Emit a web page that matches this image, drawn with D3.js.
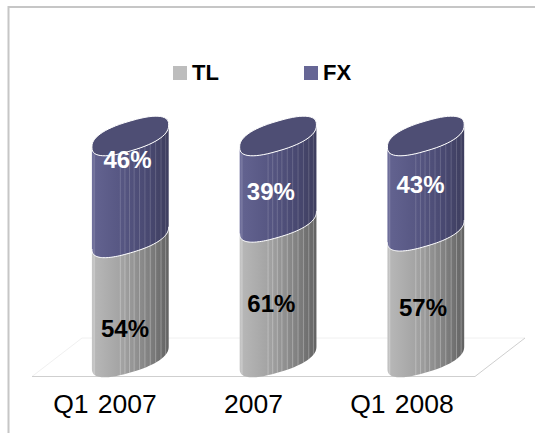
<!DOCTYPE html>
<html><head><meta charset="utf-8">
<script src="https://cdn.jsdelivr.net/npm/d3@7"></script>
<style>html,body{margin:0;padding:0;background:#fff}svg{display:block}text{font-family:"Liberation Sans",Arial,sans-serif}</style>
</head><body><div id="c"></div>
<script>
const categories = ["Q1 2007","2007","Q1 2008"];
const tl = [54,61,57];
const fx = [46,39,43];
const seriesNames = ["TL","FX"];
const stripes = [0.03,0.37,0.43,0.49,0.55,0.62,0.69,0.76,0.83,0.9,0.96];

const W=535,H=433;
const svg=d3.select("#c").append("svg").attr("width",W).attr("height",H);
const defs=svg.append("defs");
function grad(id,stops){
  const g=defs.append("linearGradient").attr("id",id).attr("x1",0).attr("x2",1).attr("y1",0).attr("y2",0);
  stops.forEach(s=>g.append("stop").attr("offset",s[0]).attr("stop-color",s[1]));
}
grad("gTL",[[0,"#c6c6c6"],[0.05,"#b6b6b6"],[0.4,"#a2a2a2"],[0.75,"#808080"],[1,"#626262"]]);
grad("gFX",[[0,"#72729e"],[0.05,"#62628f"],[0.4,"#565682"],[0.75,"#484870"],[1,"#3e3e5e"]]);

// frame
svg.append("path").attr("d","M8.5,433V7H535").attr("fill","none").attr("stroke","#c6c6c6").attr("stroke-width",2);

// scales
const x=d3.scalePoint().domain(categories).range([130.3,425.8]);
const xLabel=d3.scalePoint().domain(categories).range([105,402]);
const y=d3.scaleLinear().domain([0,100]).range([357.5,136]);
const rx=38.4, shear=11/38, ry=15, squash=0.82;
function arc(cx,cy,t0,t1){
  return d3.range(0,61).map(i=>{
    const t=t0+(t1-t0)*i/60, c=Math.cos(t), s=Math.sin(t);
    const u=rx*Math.sign(c)*Math.pow(Math.abs(c),squash);
    const v=ry*Math.sign(s)*Math.pow(Math.abs(s),squash);
    return [cx+u, cy-shear*u-v];
  });
}
const line=d3.line();
function body(cx,y0,y1){
  const top=arc(cx,y1,Math.PI,2*Math.PI);
  const bot=arc(cx,y0,2*Math.PI,Math.PI);
  return line(top.concat(bot))+"Z";
}
function ellipse(cx,cy){return line(arc(cx,cy,0,2*Math.PI))+"Z";}
function frontOffset(u){
  const a=Math.abs(u)/rx;
  const f=Math.pow(Math.max(0,1-Math.pow(a,2/squash)),squash/2);
  return -shear*u+ry*f;
}

// floor
svg.append("path").attr("d","M32,376.5L82,338H525").attr("fill","none").attr("stroke","#f0f0f0").attr("stroke-width",1);
svg.append("path").attr("d","M32,376.5H475L525,338").attr("fill","none").attr("stroke","#cfcfcf").attr("stroke-width",1);

// small nudges of the value labels inside their segments
const fxDx=[-2.8,-7.2,-5.3], fxDy=[-27,13,1.5];
const tlDx=[-5.3,-6.7,-2.8], tlDy=[31,14,13.6];

categories.forEach((c,i)=>{
  const cx=x(c);
  const g=svg.append("g");
  const yb=y(0), ym=y(tl[i]), yt=y(tl[i]+fx[i]);
  g.append("path").attr("d",body(cx,yb,ym)).attr("fill","url(#gTL)");
  g.append("path").attr("d",body(cx,ym,yt)).attr("fill","url(#gFX)");
  stripes.forEach(s=>{
    const px=cx-rx+2*rx*s, off=frontOffset(px-cx);
    g.append("line").attr("x1",px).attr("x2",px).attr("y1",yb+off).attr("y2",ym+off)
      .attr("stroke","#fff").attr("stroke-opacity",0.28).attr("stroke-width",1);
    g.append("line").attr("x1",px).attr("x2",px).attr("y1",ym+off).attr("y2",yt+off)
      .attr("stroke","#fff").attr("stroke-opacity",0.16).attr("stroke-width",1);
  });
  g.append("path").attr("d",line(arc(cx,ym,Math.PI,2*Math.PI))).attr("fill","none").attr("stroke","#fff").attr("stroke-width",1);
  g.append("path").attr("d",ellipse(cx,yt)).attr("fill","#4e4e74").attr("stroke","#fff").attr("stroke-width",1);
  g.append("text").attr("x",cx+fxDx[i]).attr("y",(ym+yt)/2+fxDy[i]+8).attr("text-anchor","middle")
    .attr("font-size",24).attr("font-weight","bold").attr("fill","#fff").text(fx[i]+"%");
  g.append("text").attr("x",cx+tlDx[i]).attr("y",(yb+ym)/2+tlDy[i]+8).attr("text-anchor","middle")
    .attr("font-size",24).attr("font-weight","bold").attr("fill","#000").text(tl[i]+"%");
  svg.append("text").attr("x",xLabel(c)).attr("y",413).attr("text-anchor","middle")
    .attr("font-size",26.5).attr("word-spacing",2).attr("fill","#000").text(c);
});

// legend
const legX=d3.scaleOrdinal().domain(seriesNames).range([173,304]);
const legC=d3.scaleOrdinal().domain(seriesNames).range(["#bdbdbd","#666695"]);
seriesNames.forEach(n=>{
  svg.append("rect").attr("x",legX(n)).attr("y",66).attr("width",14).attr("height",14).attr("fill",legC(n));
  svg.append("text").attr("x",legX(n)+19).attr("y",80).attr("font-size",22).attr("font-weight","bold").attr("fill","#000").text(n);
});
</script></body></html>
